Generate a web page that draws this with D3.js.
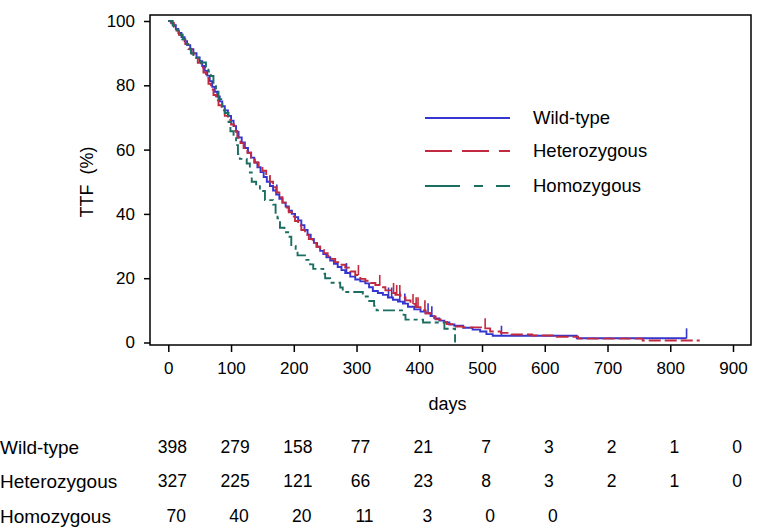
<!DOCTYPE html>
<html><head><meta charset="utf-8">
<script src="https://cdn.jsdelivr.net/npm/d3@7"></script>
<style>html,body{margin:0;padding:0;background:#fff;}svg{display:block;font-family:Arial,"Liberation Sans",sans-serif;}</style>
</head><body><svg id="c" width="767" height="529"></svg>
<script>
const groups = ["Wild-type","Heterozygous","Homozygous"];
const colors = ["#3535d0","#c22a40","#1b6e62"];
const xTicks = [0,100,200,300,400,500,600,700,800,900];
const yTicks = [0,20,40,60,80,100];
const wildSteps = [[0,100],[4,99.5],[8,98.7],[12,97.5],[16,96.3],[21,95],[26,93.7],[30,92.5],[35,91.2],[40,90],[45,88.7],[50,87.5],[54,86],[58,84.5],[62,83],[66,81.3],[70,79.5],[74,78],[78,76.5],[82,75],[86,73.5],[90,72.2],[95,70.5],[100,69],[104,67.3],[108,65.5],[112,63.8],[117,62.2],[122,60.5],[127,59],[132,57.5],[137,56],[142,54.5],[147,53],[152,51.5],[157,50],[162,48.7],[167,47.3],[172,46],[177,44.7],[182,43.5],[187,42.3],[192,41],[197,40],[202,39],[207,38],[212,36.5],[217,35],[222,33.5],[227,32.2],[232,31],[237,29.8],[242,28.5],[247,27.5],[252,26.5],[258,25.5],[264,24.5],[270,23.5],[276,22.5],[282,21.6],[290,20.5],[298,19.6],[306,19],[314,18.4],[320,17.2],[326,16],[334,15.4],[342,14.8],[350,14],[358,13.3],[366,12.7],[374,12.1],[382,11.1],[392,10.3],[402,9.6],[410,9.1],[418,8.2],[424,7.5],[432,6.8],[440,6.2],[448,5.6],[456,5.2],[470,4.6],[485,4.0],[497,3.4],[507,2.6],[517,2.1],[651,1.3],[826,1.3]];
const hetSteps = [[0,100],[5,99.3],[9,98.2],[13,97],[17,95.7],[22,94.3],[27,92.8],[32,91.3],[37,89.8],[42,88.5],[47,87],[52,85.6],[56,84],[60,82.3],[64,80.5],[68,78.7],[72,77],[76,75.3],[80,73.8],[85,72.2],[90,70.5],[95,69.2],[100,67.8],[105,65.8],[110,63.7],[115,62],[120,60.5],[126,59],[132,57.5],[138,56],[144,54.8],[150,53.4],[156,51.8],[162,50],[167,48.3],[172,46.7],[177,45.2],[182,43.5],[187,42],[192,40.5],[197,39.2],[202,37.8],[207,36.4],[212,35],[218,33.5],[224,32.2],[230,31],[236,29.8],[242,28.8],[248,27.8],[254,26.9],[260,26],[266,25],[274,24.2],[282,23.3],[290,22.1],[298,21],[306,19.8],[314,19.2],[322,18.5],[330,17.9],[338,17.2],[346,16.2],[354,15.4],[362,14.8],[370,14],[378,13.1],[386,12],[394,11],[402,10],[410,9.1],[418,8.1],[426,7.2],[434,6.4],[444,5.7],[455,5.0],[470,4.7],[505,4.4],[513,3.4],[530,3.0],[547,2.5],[580,2.2],[619,1.8],[653,1.2],[756,0.6],[847,0.6]];
const homSteps = [[0,100],[7,98.6],[14,97.1],[19,95.7],[23,94.3],[27,92.9],[31,91.4],[36,90],[40,88.6],[52,87.1],[60,85.7],[64,84.3],[68,82.9],[72,80],[76,78.6],[80,75.7],[86,72.9],[90,71.4],[96,68.6],[99,65.7],[104,64.3],[108,61.4],[111,58.6],[114,57.1],[125,55.7],[130,52.9],[133,50],[140,48.6],[146,47.1],[154,44.3],[167,42.9],[171,40],[174,38.6],[178,35.7],[185,34.3],[191,32.9],[196,30],[203,28.6],[206,27.1],[220,25.7],[226,24.3],[231,22.9],[247,21.4],[250,20],[258,18.6],[274,17.1],[278,15.7],[310,14.3],[318,12.9],[328,11.4],[332,10],[375,8.6],[378,7.1],[406,6.2],[440,4.3],[457,0]];
const wildCensor = [173,284,351,356,369,377,414,420,531,826];
const hetCensor = [303,337,359,364,369,390,395,398,409,505];
const homCensor = [];
const wildRisk = [398,279,158,77,21,7,3,2,1,0];
const hetRisk = [327,225,121,66,23,8,3,2,1,0];
const homRisk = [70,40,20,11,3,0,0];

const svg = d3.select("#c");
const x = d3.scaleLinear().domain([0,900]).range([168.3,733]);
const y = d3.scaleLinear().domain([0,100]).range([342.5,21]);
const frame = {l:150,t:15,r:751,b:345};

svg.append("rect").attr("x",frame.l).attr("y",frame.t).attr("width",frame.r-frame.l).attr("height",frame.b-frame.t)
  .attr("fill","none").attr("stroke","#000").attr("stroke-width",1.5);

const xAxis = svg.append("g").attr("transform",`translate(0,${frame.b})`)
  .call(d3.axisBottom(x).tickValues(xTicks).tickSize(7).tickPadding(10).tickFormat(d3.format("d")));
const yAxis = svg.append("g").attr("transform",`translate(${frame.l},0)`)
  .call(d3.axisLeft(y).tickValues(yTicks).tickSize(6).tickPadding(9).tickFormat(d3.format("d")));
[xAxis,yAxis].forEach(a=>{
  a.select(".domain").remove();
  a.selectAll(".tick line").attr("stroke","#000").attr("stroke-width",1.5);
  a.selectAll("text").attr("font-size",17).attr("fill","#000").attr("font-family","Arial, 'Liberation Sans', sans-serif");
});
svg.append("text").attr("x",(frame.l+frame.r)/2-3).attr("y",410).attr("text-anchor","middle").attr("font-size",18).text("days");
svg.append("text").attr("transform","translate(93,182) rotate(-90)").attr("text-anchor","middle").attr("font-size",18).attr("xml:space","preserve").text("TTF  (%)");

const plotDash = [null,"12,4","12,4,4,4"];
const legendDash = [null,"27,10","35,14,9,13"];
const stepsAll = [wildSteps,hetSteps,homSteps];
const censorsAll = [wildCensor,hetCensor,homCensor];
const line = d3.line().x(d=>x(d[0])).y(d=>y(d[1])).curve(d3.curveStepAfter);
const bis = d3.bisector(d=>d[0]).right;

stepsAll.forEach((steps,i)=>{
  svg.append("path").datum(steps).attr("d",line).attr("fill","none")
    .attr("stroke",colors[i]).attr("stroke-width",1.9).attr("stroke-dasharray",plotDash[i]);
  censorsAll[i].forEach(t=>{
    const idx = Math.max(0,bis(steps,t)-1);
    const s = steps[idx][1];
    svg.append("line").attr("x1",x(t)).attr("x2",x(t)).attr("y1",y(s)).attr("y2",y(s)-10)
      .attr("stroke",colors[i]).attr("stroke-width",1.6);
  });
});

const legY = [118,151,186];
groups.forEach((g,i)=>{
  svg.append("line").attr("x1",425).attr("x2",510).attr("y1",legY[i]).attr("y2",legY[i])
    .attr("stroke",colors[i]).attr("stroke-width",1.9).attr("stroke-dasharray",legendDash[i]);
  svg.append("text").attr("x",533).attr("y",legY[i]).attr("dy","0.35em").attr("font-size",18.5).text(g);
});

const risks = [wildRisk,hetRisk,homRisk];
const rowY = [447,481,516];
const rowDx = [4,4,8];
groups.forEach((g,i)=>{
  svg.append("text").attr("x",0).attr("y",rowY[i]).attr("dy","0.35em").attr("font-size",19).text(g);
  risks[i].forEach((v,j)=>{
    svg.append("text").attr("x",x(xTicks[j])+rowDx[i]).attr("y",rowY[i]).attr("dy","0.35em")
      .attr("text-anchor","middle").attr("font-size",17.5).text(v);
  });
});
</script></body></html>
